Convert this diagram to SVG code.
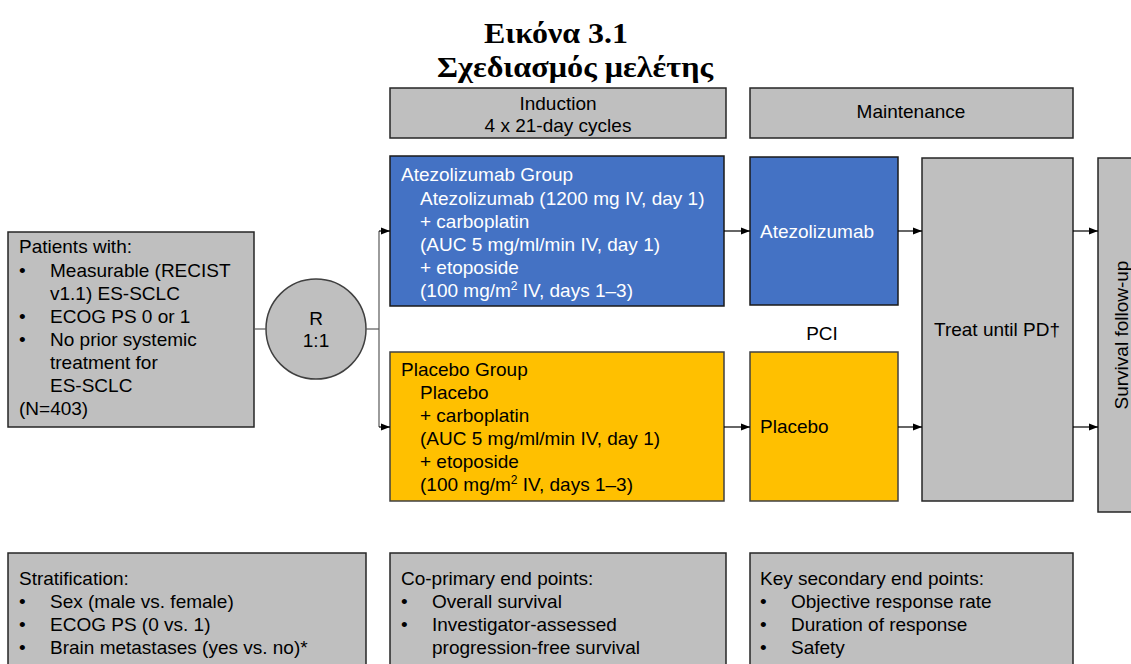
<svg xmlns="http://www.w3.org/2000/svg" width="1131" height="664" viewBox="0 0 1131 664">
<defs>
<marker id="ah" viewBox="0 0 10 10" refX="10" refY="5" markerWidth="9" markerHeight="9" markerUnits="userSpaceOnUse" orient="auto">
<path d="M0,1 L10,5 L0,9 z" fill="#000"/>
</marker>
<style>
.g{fill:#bfbfbf;stroke:#262626;stroke-width:1.5}
.b{fill:#4472c4;stroke:#1a1a1a;stroke-width:1.5}
.y{fill:#ffc000;stroke:#404040;stroke-width:1.5}
.t{font-family:"Liberation Sans",Arial,sans-serif;font-size:19px;fill:#000}
.w{fill:#fff}
.c{text-anchor:middle}
.ttl{font-family:"Liberation Serif","Times New Roman",serif;font-weight:bold;font-size:29px;fill:#000;text-anchor:middle}
.ln{fill:none;stroke:#000;stroke-width:1.2}
.gl{fill:none;stroke:#595959;stroke-width:1.2}
</style>
</defs>
<rect width="1131" height="664" fill="#fff"/>
<g id="title">
<text class="ttl" x="556" y="43" textLength="144" lengthAdjust="spacingAndGlyphs">Εικόνα 3.1</text>
<text class="ttl" x="575" y="77" textLength="276" lengthAdjust="spacingAndGlyphs">Σχεδιασμός μελέτης</text>
</g>
<g id="induction">
<rect class="g" x="390" y="88" width="336" height="50"/>
<text class="t c" x="558" y="110">Induction</text>
<text class="t c" x="558" y="132">4 x 21-day cycles</text>
</g>
<g id="maintenance">
<rect class="g" x="750" y="88" width="323" height="50"/>
<text class="t c" x="911" y="118">Maintenance</text>
</g>
<g id="patients">
<rect class="g" x="8" y="232" width="246" height="195"/>
<text class="t" x="19" y="253">Patients with:</text>
<text class="t" x="19" y="277">•</text><text class="t" x="50" y="277">Measurable (RECIST</text>
<text class="t" x="50" y="300">v1.1) ES-SCLC</text>
<text class="t" x="19" y="323">•</text><text class="t" x="50" y="323">ECOG PS 0 or 1</text>
<text class="t" x="19" y="346">•</text><text class="t" x="50" y="346">No prior systemic</text>
<text class="t" x="50" y="369">treatment for</text>
<text class="t" x="50" y="392">ES-SCLC</text>
<text class="t" x="19" y="415">(N=403)</text>
</g>
<g id="randomize">
<circle cx="316" cy="329" r="50" fill="#bfbfbf" stroke="#404040" stroke-width="1.5"/>
<text class="t c" x="316" y="325">R</text>
<text class="t c" x="316" y="347">1:1</text>
</g>
<g id="atezo-group">
<rect class="b" x="390" y="156" width="334" height="150"/>
<text class="t w" x="401" y="181">Atezolizumab Group</text>
<text class="t w" x="420" y="205">Atezolizumab (1200 mg IV, day 1)</text>
<text class="t w" x="420" y="228">+ carboplatin</text>
<text class="t w" x="420" y="251">(AUC 5 mg/ml/min IV, day 1)</text>
<text class="t w" x="420" y="274">+ etoposide</text>
<text class="t w" x="420" y="297">(100 mg/m<tspan font-size="12" dy="-7">2</tspan><tspan dy="7"> IV, days 1–3)</tspan></text>
</g>
<g id="placebo-group">
<rect class="y" x="390" y="352" width="334" height="149"/>
<text class="t" x="401" y="376">Placebo Group</text>
<text class="t" x="420" y="399">Placebo</text>
<text class="t" x="420" y="422">+ carboplatin</text>
<text class="t" x="420" y="445">(AUC 5 mg/ml/min IV, day 1)</text>
<text class="t" x="420" y="468">+ etoposide</text>
<text class="t" x="420" y="491">(100 mg/m<tspan font-size="12" dy="-7">2</tspan><tspan dy="7"> IV, days 1–3)</tspan></text>
</g>
<g id="atezo-maint">
<rect class="b" x="750" y="157" width="148" height="148"/>
<text class="t w" x="760" y="238">Atezolizumab</text>
</g>
<g id="pci">
<text class="t c" x="822" y="340">PCI</text>
</g>
<g id="placebo-maint">
<rect class="y" x="750" y="352" width="148" height="149"/>
<text class="t" x="760" y="433">Placebo</text>
</g>
<g id="treat">
<rect class="g" x="922" y="158" width="151" height="343"/>
<text class="t c" x="997" y="336">Treat until PD†</text>
</g>
<g id="survival">
<rect class="g" x="1098" y="158" width="40" height="354"/>
<text class="t c" transform="translate(1128,335) rotate(-90)" x="0" y="0">Survival follow-up</text>
</g>
<g id="stratification">
<rect class="g" x="8" y="553" width="358" height="120"/>
<text class="t" x="19" y="585">Stratification:</text>
<text class="t" x="19" y="608">•</text><text class="t" x="50" y="608">Sex (male vs. female)</text>
<text class="t" x="19" y="631">•</text><text class="t" x="50" y="631">ECOG PS (0 vs. 1)</text>
<text class="t" x="19" y="654">•</text><text class="t" x="50" y="654">Brain metastases (yes vs. no)*</text>
</g>
<g id="primary">
<rect class="g" x="390" y="553" width="336" height="120"/>
<text class="t" x="401" y="585">Co-primary end points:</text>
<text class="t" x="401" y="608">•</text><text class="t" x="432" y="608">Overall survival</text>
<text class="t" x="401" y="631">•</text><text class="t" x="432" y="631">Investigator-assessed</text>
<text class="t" x="432" y="654">progression-free survival</text>
</g>
<g id="secondary">
<rect class="g" x="750" y="553" width="323" height="120"/>
<text class="t" x="760" y="585">Key secondary end points:</text>
<text class="t" x="760" y="608">•</text><text class="t" x="791" y="608">Objective response rate</text>
<text class="t" x="760" y="631">•</text><text class="t" x="791" y="631">Duration of response</text>
<text class="t" x="760" y="654">•</text><text class="t" x="791" y="654">Safety</text>
</g>
<g id="connectors">
<line class="gl" x1="254" y1="329" x2="266" y2="329"/>
<polyline class="gl" points="366,329 379,329"/>
<polyline class="gl" points="379,231 379,427"/>
<line class="ln" x1="379" y1="231" x2="390" y2="231" marker-end="url(#ah)"/>
<line class="ln" x1="379" y1="427" x2="390" y2="427" marker-end="url(#ah)"/>
<line class="ln" x1="724" y1="231" x2="750" y2="231" marker-end="url(#ah)"/>
<line class="ln" x1="724" y1="427" x2="750" y2="427" marker-end="url(#ah)"/>
<line class="ln" x1="898" y1="231" x2="922" y2="231" marker-end="url(#ah)"/>
<line class="ln" x1="898" y1="427" x2="922" y2="427" marker-end="url(#ah)"/>
<line class="ln" x1="1073" y1="231" x2="1098" y2="231" marker-end="url(#ah)"/>
<line class="ln" x1="1073" y1="427" x2="1098" y2="427" marker-end="url(#ah)"/>
</g>
</svg>
